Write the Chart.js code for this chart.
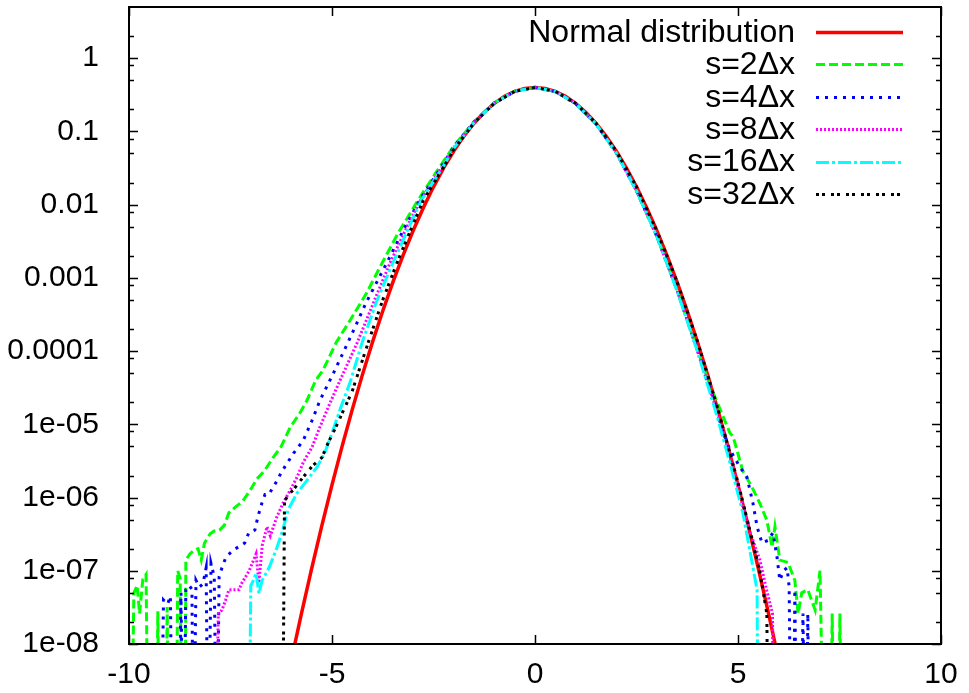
<!DOCTYPE html>
<html>
<head>
<meta charset="utf-8">
<script src="https://cdn.jsdelivr.net/npm/chart.js@4.4.0/dist/chart.umd.min.js"></script>
<style>
html,body{margin:0;padding:0;background:#fff;}
#wrap{width:969px;height:693px;position:relative;}
</style>
</head>
<body>
<div id="wrap"><canvas id="c" width="969" height="693"></canvas></div>
<script>
// ---------------- data ----------------
const seriesLabels = ['Normal distribution', 's=2\u0394x', 's=4\u0394x', 's=8\u0394x', 's=16\u0394x', 's=32\u0394x'];

// 1e-10 marks an empty bin (below the plotted range)
const normalX = [-6.5,-6.25,-6,-5.75,-5.5,-5.25,-5,-4.75,-4.5,-4.25,-4,-3.75,-3.5,-3.25,-3,-2.75,-2.5,-2.25,-2,-1.75,-1.5,-1.25,-1,-0.75,-0.5,-0.25,0,0.25,0.5,0.75,1,1.25,1.5,1.75,2,2.25,2.5,2.75,3,3.25,3.5,3.75,4,4.25,4.5,4.75,5,5.25,5.5,5.75,6,6.25];
const normalY = [2.67e-10,1.31e-9,6.08e-9,2.64e-8,1.08e-7,4.13e-7,1.49e-6,5.03e-6,1.60e-5,4.77e-5,1.34e-4,3.53e-4,8.73e-4,2.03e-3,4.43e-3,9.09e-3,1.75e-2,3.17e-2,5.40e-2,8.63e-2,0.1295,0.1827,0.2420,0.3011,0.3521,0.3867,0.3989,0.3867,0.3521,0.3011,0.2420,0.1827,0.1295,8.63e-2,5.40e-2,3.17e-2,1.75e-2,9.09e-3,4.43e-3,2.03e-3,8.73e-4,3.53e-4,1.34e-4,4.77e-5,1.60e-5,5.03e-6,1.49e-6,4.13e-7,1.08e-7,2.64e-8,6.08e-9,1.31e-9];

const s2X = [-9.95,-9.88,-9.80,-9.74,-9.66,-9.58,-9.52,-9.33,-9.29,-9.24,-9.10,-9.06,-9.02,-8.84,-8.80,-8.74,-8.68,-8.62,-8.60,-8.50,-8.40,-8.30,-8.22,-8.14,-8.00,-7.90,-7.77,-7.65,-7.54,-7.38,-7.20,-7.00,-6.85,-6.67,-6.45,-6.25,-6.03,-5.80,-5.62,-5.40,-5.22,-4.90,-4.56,-4.14,-3.82,-3.37,-2.88,-2.36,-2.00,-1.50,-1.00,-0.50,0,0.50,1.00,1.50,2.00,2.50,3.00,3.50,4.00,4.30,4.56,4.80,4.88,5.12,5.34,5.54,5.71,5.84,5.91,6.03,6.23,6.40,6.48,6.57,6.72,6.90,7.02,7.12,7.27,7.32,7.37,7.46,7.51,7.56];
const s2Y = [1e-10,5.0e-8,6.3e-8,2.6e-8,7.6e-8,8.9e-8,1e-10,1e-10,2.8e-8,1e-10,1e-10,3.2e-8,1e-10,1e-10,1.0e-7,7.9e-8,1e-10,1e-10,1.4e-7,1.7e-7,1.9e-7,2.0e-7,1.4e-7,2.4e-7,3.2e-7,3.5e-7,3.6e-7,4.2e-7,6.2e-7,7.4e-7,8.9e-7,1.3e-6,1.8e-6,2.3e-6,3.5e-6,5.0e-6,9.1e-6,1.4e-5,2.1e-5,4.0e-5,5.5e-5,1.3e-4,2.6e-4,6.3e-4,1.4e-3,4.1e-3,1.15e-2,3.2e-2,6.3e-2,0.136,0.247,0.355,0.400,0.351,0.240,0.127,5.13e-2,1.55e-2,3.7e-3,6.8e-4,1.05e-4,3.5e-5,1.6e-5,7.6e-6,6.8e-6,2.3e-6,1.4e-6,8.3e-7,4.9e-7,2.1e-7,4.0e-7,1.4e-7,1.3e-7,7.4e-8,2.6e-8,5.0e-8,5.5e-8,2.9e-8,1.0e-7,1e-10,1e-10,2.6e-8,1e-10,1e-10,2.6e-8,1e-10];

const s4X = [-9.22,-9.15,-9.05,-8.98,-8.93,-8.78,-8.72,-8.66,-8.60,-8.52,-8.45,-8.41,-8.35,-8.27,-8.18,-8.10,-8.05,-7.98,-7.90,-7.84,-7.78,-7.71,-7.62,-7.55,-7.48,-7.38,-7.25,-7.15,-7.05,-6.90,-6.82,-6.73,-6.65,-6.56,-6.38,-6.23,-5.95,-5.71,-5.50,-5.30,-4.95,-4.61,-4.15,-3.65,-3.20,-2.84,-2.32,-2.00,-1.50,-1.00,-0.50,0,0.50,1.00,1.50,2.00,2.50,3.00,3.50,4.00,4.30,4.63,4.80,5.05,5.22,5.37,5.47,5.59,5.74,5.86,5.96,6.03,6.12,6.21,6.26,6.31,6.36,6.40,6.45,6.55,6.60,6.65,6.68,6.72,6.76];
const s4Y = [1e-10,4.0e-8,3.5e-8,4.5e-8,1e-10,1e-10,5.0e-8,1e-10,5.5e-8,6.3e-8,5.6e-8,1e-10,7.4e-8,6.0e-8,6.6e-8,1.1e-7,1e-10,1.26e-7,8.3e-8,1e-10,8.3e-8,1.1e-7,1.5e-7,1.66e-7,1.8e-7,2.0e-7,2.2e-7,2.4e-7,3.3e-7,3.6e-7,5.6e-7,8.3e-7,1.1e-6,1.1e-6,1.6e-6,2.3e-6,4.0e-6,6.0e-6,1.1e-5,2.1e-5,5.2e-5,1.3e-4,4.7e-4,1.6e-3,5.0e-3,1.15e-2,3.2e-2,6.2e-2,0.135,0.245,0.353,0.400,0.351,0.240,0.127,5.13e-2,1.55e-2,3.7e-3,6.8e-4,1.05e-4,3.5e-5,7.9e-6,4.5e-6,2.6e-6,1.9e-6,8.3e-7,4.0e-7,2.4e-7,2.6e-7,3.3e-7,1.55e-7,7.4e-8,1.0e-7,1.1e-7,6.0e-8,1e-10,1e-10,5.5e-8,1e-10,1e-10,2.6e-8,1e-10,1e-10,2.6e-8,1e-10];

const s8X = [-7.88,-7.80,-7.71,-7.62,-7.54,-7.29,-7.22,-7.04,-6.87,-6.80,-6.72,-6.60,-6.52,-6.36,-6.21,-6.03,-5.86,-5.71,-5.49,-5.30,-5.05,-4.80,-4.38,-3.95,-3.57,-3.15,-2.82,-2.30,-2.00,-1.50,-1.00,-0.50,0,0.5,1,1.5,2,2.5,3,3.5,4.0,4.5,4.8,5.05,5.30,5.54,5.70,5.85,5.88];
const s8Y = [1e-10,2.6e-8,2.9e-8,4.0e-8,5.5e-8,5.5e-8,6.8e-8,1.0e-7,1.7e-7,6.8e-8,2.2e-7,4.0e-7,3.0e-7,5.4e-7,8.3e-7,1.26e-6,1.9e-6,3.0e-6,4.9e-6,9.1e-6,1.95e-5,4.0e-5,1.3e-4,5.0e-4,1.6e-3,5.0e-3,1.15e-2,3.2e-2,6.0e-2,0.133,0.244,0.353,0.400,0.351,0.240,0.127,5.13e-2,1.55e-2,3.7e-3,6.8e-4,1.0e-4,1.4e-5,3.8e-6,1.1e-6,3.3e-7,1.4e-7,5.6e-8,2.6e-8,1e-10];

const s16X = [-7.05,-7.00,-6.95,-6.87,-6.80,-6.72,-6.55,-6.38,-6.22,-6.08,-5.86,-5.62,-5.37,-5.17,-5.00,-4.80,-4.55,-4.26,-3.90,-3.50,-3.10,-2.80,-2.28,-2.00,-1.50,-1.00,-0.50,0,0.5,1,1.5,2,2.5,3,3.5,4.0,4.5,4.80,5.12,5.37,5.47,5.50];
const s16Y = [1e-10,6.3e-8,7.1e-8,9.3e-8,4.9e-8,7.4e-8,1.1e-7,1.9e-7,3.5e-7,6.8e-7,1.15e-6,1.7e-6,2.6e-6,4.2e-6,7.6e-6,1.6e-5,3.8e-5,1.3e-4,4.8e-4,1.6e-3,5.0e-3,1.15e-2,3.2e-2,5.9e-2,0.132,0.244,0.353,0.400,0.351,0.240,0.127,5.13e-2,1.55e-2,3.7e-3,6.6e-4,1.0e-4,1.2e-5,3.0e-6,6.2e-7,1.1e-7,5.5e-8,1e-10];

const s32X = [-6.22,-6.17,-6.07,-5.96,-5.71,-5.47,-5.25,-5.10,-4.88,-4.73,-4.51,-4.11,-3.75,-3.40,-3.05,-2.75,-2.26,-2.00,-1.50,-1.00,-0.50,0,0.5,1,1.5,2,2.5,3,3.5,4.0,4.5,5.0,5.37,5.55,5.71,5.75];
const s32Y = [1e-10,8.9e-7,1.1e-6,1.26e-6,1.9e-6,2.75e-6,3.5e-6,5.5e-6,9.8e-6,1.5e-5,2.75e-5,1.3e-4,5.0e-4,1.6e-3,4.7e-3,1.15e-2,3.2e-2,5.7e-2,0.131,0.243,0.352,0.399,0.352,0.242,0.129,5.4e-2,1.75e-2,4.4e-3,8.8e-4,1.36e-4,1.65e-5,1.6e-6,2.4e-7,8.9e-8,2.6e-8,1e-10];

const xTickValues = [-10,-5,0,5,10];
const xTickLabels = ['-10','-5','0','5','10'];
const yTickValues = [1e-8,1e-7,1e-6,1e-5,1e-4,1e-3,1e-2,1e-1,1];
const yTickLabels = ['1e-08','1e-07','1e-06','1e-05','0.0001','0.001','0.01','0.1','1'];
const yMinorTicks = [2e-8,5e-8,8e-8,2e-7,5e-7,8e-7,2e-6,5e-6,8e-6,2e-5,5e-5,8e-5,2e-4,5e-4,8e-4,2e-3,5e-3,8e-3,2e-2,5e-2,8e-2,0.2,0.5,0.8,2];

// ---------------- chart ----------------
const FONT = '"Liberation Sans", Arial, Helvetica, sans-serif';
const AXIS_FSIZE = 30;
const KEY_FSIZE = 32;

function pts(xs, ys){ return xs.map((x,i)=>({x:x, y:ys[i]})); }

const styles = [
  {color:'#ff0000', dash:[], width:3.5},
  {color:'#00ff00', dash:[9,4], width:3},
  {color:'#0000ff', dash:[3,6], width:3},
  {color:'#ff00ff', dash:[2,2], width:3},
  {color:'#00ffff', dash:[13,3,3,3], width:3},
  {color:'#000000', dash:[3,3,3,6], width:3}
];
const seriesData = [pts(normalX,normalY), pts(s2X,s2Y), pts(s4X,s4Y), pts(s8X,s8Y), pts(s16X,s16Y), pts(s32X,s32Y)];

const datasets = seriesData.map((d,i)=>({
  label: seriesLabels[i],
  data: d,
  borderColor: styles[i].color,
  backgroundColor: styles[i].color,
  borderDash: styles[i].dash,
  borderWidth: styles[i].width,
  pointRadius: 0,
  tension: 0,
  fill: false,
  clip: 0,
  order: 5 - i
}));

const framePlugin = {
  id: 'frame',
  afterDatasetsDraw(chart){
    const ctx = chart.ctx, a = chart.chartArea;
    const xs = chart.scales.x, ys = chart.scales.y;
    ctx.save();
    ctx.strokeStyle = '#000';
    ctx.lineWidth = 1.5;
    ctx.setLineDash([]);
    ctx.beginPath();
    yTickValues.forEach(v=>{
      const p = Math.round(ys.getPixelForValue(v)) + 0.5;
      ctx.moveTo(a.left, p); ctx.lineTo(a.left + 9, p);
      ctx.moveTo(a.right, p); ctx.lineTo(a.right - 9, p);
    });
    yMinorTicks.forEach(v=>{
      const p = Math.round(ys.getPixelForValue(v)) + 0.5;
      ctx.moveTo(a.left, p); ctx.lineTo(a.left + 5, p);
      ctx.moveTo(a.right, p); ctx.lineTo(a.right - 5, p);
    });
    xTickValues.forEach(v=>{
      const p = Math.round(xs.getPixelForValue(v)) + 0.5;
      ctx.moveTo(p, a.bottom); ctx.lineTo(p, a.bottom - 9);
      ctx.moveTo(p, a.top); ctx.lineTo(p, a.top + 9);
    });
    ctx.stroke();
    ctx.lineWidth = 2;
    ctx.strokeRect(a.left, a.top, a.right - a.left, a.bottom - a.top);

    // key (legend) inside the plot, top right
    ctx.font = KEY_FSIZE + 'px ' + FONT;
    ctx.textAlign = 'right';
    ctx.textBaseline = 'middle';
    chart.data.datasets.forEach((ds,i)=>{
      const y = 32 + i * 32.4;
      ctx.fillStyle = '#000';
      ctx.fillText(ds.label, 795, y + 1);
      ctx.strokeStyle = ds.borderColor;
      ctx.lineWidth = ds.borderWidth;
      ctx.setLineDash(ds.borderDash);
      ctx.beginPath();
      ctx.moveTo(816, Math.round(y) + 0.5);
      ctx.lineTo(903, Math.round(y) + 0.5);
      ctx.stroke();
    });
    ctx.restore();
  }
};

new Chart(document.getElementById('c'), {
  type: 'line',
  data: { datasets: datasets },
  options: {
    responsive: false,
    animation: false,
    devicePixelRatio: 1,
    parsing: true,
    layout: { padding: { top: 7, right: 28, bottom: 0, left: 0 } },
    plugins: { legend: { display: false }, tooltip: { enabled: false } },
    scales: {
      x: {
        type: 'linear', min: -10, max: 10,
        grid: { display: false }, border: { display: false },
        afterBuildTicks: s => { s.ticks = xTickValues.map(v=>({value:v})); },
        ticks: {
          autoSkip: false, maxRotation: 0, color: '#000', padding: 5,
          font: { family: FONT, size: AXIS_FSIZE },
          callback: (v) => { const k = xTickValues.indexOf(v); return k >= 0 ? xTickLabels[k] : ''; }
        },
        afterFit: s => { s.height = 49; s.paddingLeft = 0; s.paddingRight = 0; }
      },
      y: {
        type: 'logarithmic', min: 1e-8, max: 5,
        grid: { display: false }, border: { display: false },
        afterBuildTicks: s => { s.ticks = yTickValues.map(v=>({value:v})); },
        ticks: {
          autoSkip: false, color: '#000', padding: 22,
          font: { family: FONT, size: AXIS_FSIZE },
          callback: (v) => {
            let k = -1;
            yTickValues.forEach((t,j)=>{ if (Math.abs(Math.log10(t) - Math.log10(v)) < 1e-6) k = j; });
            return k >= 0 ? yTickLabels[k] : '';
          }
        },
        afterFit: s => { s.width = 129; s.paddingTop = 0; s.paddingBottom = 0; }
      }
    }
  },
  plugins: [framePlugin]
});
</script>
</body>
</html>
